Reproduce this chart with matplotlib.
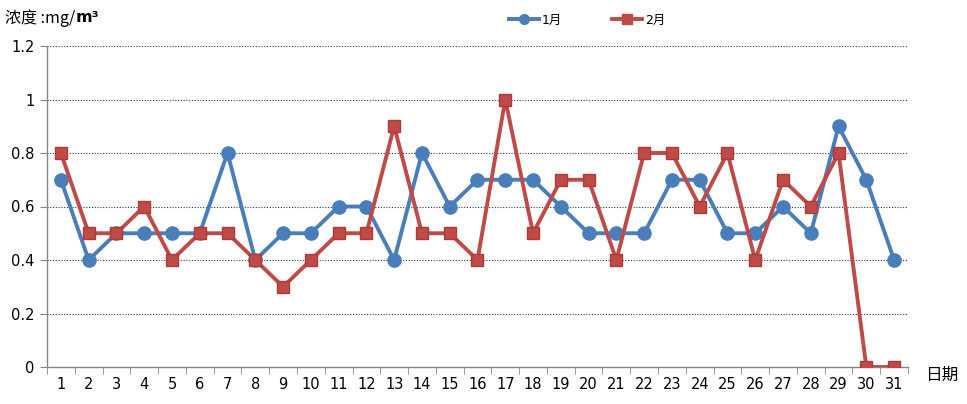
import matplotlib
matplotlib.use("Agg")
import matplotlib.pyplot as plt
from matplotlib.ticker import FixedLocator
from matplotlib.lines import Line2D

plt.rcParams['font.family'] = ['DejaVu Sans', 'Noto Sans CJK SC']

days = list(range(1, 32))
jan = [0.7, 0.4, 0.5, 0.5, 0.5, 0.5, 0.8, 0.4, 0.5, 0.5, 0.6, 0.6, 0.4, 0.8, 0.6, 0.7,
       0.7, 0.7, 0.6, 0.5, 0.5, 0.5, 0.7, 0.7, 0.5, 0.5, 0.6, 0.5, 0.9, 0.7, 0.4]
feb = [0.8, 0.5, 0.5, 0.6, 0.4, 0.5, 0.5, 0.4, 0.3, 0.4, 0.5, 0.5, 0.9, 0.5, 0.5, 0.4,
       1.0, 0.5, 0.7, 0.7, 0.4, 0.8, 0.8, 0.6, 0.8, 0.4, 0.7, 0.6, 0.8, 0.0, 0.0]
series_names = ['1月', '2月']
yticks = [0, 0.2, 0.4, 0.6, 0.8, 1, 1.2]
ytick_labels = ['0', '0.2', '0.4', '0.6', '0.8', '1', '1.2']

blue = '#4A7EBB'
red = '#BE4B48'

fig = plt.figure(figsize=(9.67, 4.04), dpi=100)
ax = fig.add_axes([47/967, 37/404, (908-47)/967, (367-46)/404])

ax.plot(days, jan, color=blue, lw=2.8, marker='o', ms=9.5, mfc=blue, mec=blue, zorder=3)
ax.plot(days, feb, color=red, lw=2.8, marker='s', ms=9, mfc=red, mec='#B03A37', zorder=4)

ax.set_xlim(0.5, 31.5)
ax.set_ylim(0, 1.2)
ax.set_yticks(yticks)
ax.set_yticklabels(ytick_labels)
ax.set_xticks(days)
ax.set_xticklabels([str(d) for d in days])
ax.xaxis.set_minor_locator(FixedLocator([d + 0.5 for d in range(0, 32)]))
ax.tick_params(axis='x', which='major', length=0, labelsize=10.5, pad=7)
ax.tick_params(axis='x', which='minor', length=5, color='#868686', direction='out')
ax.tick_params(axis='y', length=5, color='#868686', labelsize=10.5, pad=4)

ax.grid(axis='y', color='#1F3A6E', linestyle=(0, (1, 1.5)), lw=0.8)
for s in ['top', 'right']:
    ax.spines[s].set_visible(False)
for s in ['left', 'bottom']:
    ax.spines[s].set_color('#868686')
    ax.spines[s].set_linewidth(1.0)
ax.set_axisbelow(True)

t1 = fig.text(5/967, 1 - 18/404, '浓度 :mg/', fontsize=11.5, va='center', ha='left',
              family=['Noto Sans CJK SC', 'DejaVu Sans'])
fig.canvas.draw()
bb = t1.get_window_extent()
fig.text(bb.x1 / 967 + 0.5/967, 1 - 18/404, 'm³', fontsize=11.5, va='center', ha='left',
         fontweight='bold', family=['DejaVu Sans'])
fig.text(925/967, 1 - 375/404, '日期', fontsize=12, va='center', ha='left',
         family=['Noto Sans CJK SC', 'DejaVu Sans'])

handles = [Line2D([], [], color=blue, lw=2.8, marker='o', ms=7),
           Line2D([], [], color=red, lw=2.8, marker='s', ms=7)]
fig.legend(handles, series_names, loc='center', bbox_to_anchor=(587/967, 1 - 20/404),
           ncol=2, frameon=False, handlelength=2.4, columnspacing=4.0,
           handletextpad=0.25, prop={'family': ['DejaVu Sans', 'Noto Sans CJK SC'], 'size': 9})

fig.savefig('out.png', dpi=100)
